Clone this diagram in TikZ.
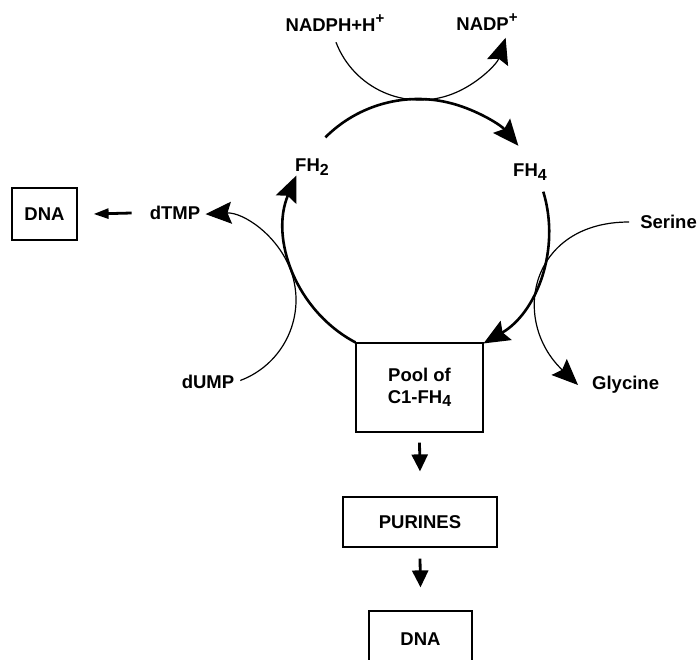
\documentclass[tikz,border=0pt]{standalone}
\usepackage{fontspec}
\setmainfont{Liberation Sans}
\usetikzlibrary{arrows.meta}
\newcommand{\sbs}[1]{\raisebox{-0.35ex}{\fontsize{16}{16}\selectfont #1}}
\newcommand{\sps}[1]{\raisebox{0.75ex}{\fontsize{15}{15}\selectfont #1}}
\begin{document}
\begin{tikzpicture}[x=1pt,y=1pt,
  lbl/.style={font=\fontsize{18.5}{22}\selectfont\bfseries, inner sep=0pt},
  box/.style={draw, line width=1.2pt, lbl},
  bighead/.style={-{Stealth[length=26pt,width=22pt,inset=4pt]}},
  thickarc/.style={line width=2.6pt, bighead},
  thinarc/.style={line width=1.2pt, bighead},
  smallarrow/.style={line width=2.8pt, -{Triangle[length=17pt,width=16pt]}},
  sidearrow/.style={line width=2.8pt, -{Triangle[length=15pt,width=10pt]}}]
\clip (0,0) rectangle (698,659);
\fill[white] (0,0) rectangle (698,659);
% labels
\node[lbl] (nadph) at (335,636) {NADPH+H\sps{+}};
\node[lbl] (nadp) at (487,637) {NADP\sps{+}};
\node[lbl] (fh2) at (312,492) {FH\sbs{2}};
\node[lbl] (fh4) at (530,487) {FH\sbs{4}};
\node[lbl] (dtmp) at (175,446) {dTMP};
\node[lbl, anchor=east] (serine) at (697,437) {Serine};
\node[lbl] (dump) at (208,277) {dUMP};
\node[lbl, anchor=west] (glycine) at (592,274) {Glycine};
% boxes
\node[box, minimum width=65, minimum height=52] (dnaL) at (44.5,445) {DNA};
\node[box, minimum width=127, minimum height=89, align=center] (pool) at (419.5,271.5) {Pool of\\C1-FH\sbs{4}};
\node[box, minimum width=154, minimum height=50] (purines) at (420,137) {PURINES};
\node[box, minimum width=103, minimum height=60] (dnaB) at (420.5,18) {\raisebox{4pt}{DNA}};
% centres of the circular arcs
\coordinate (C) at (418,429);
\coordinate (N) at (420,649);
\coordinate (T) at (210,359);
% FH2 -> FH4 cycle
\draw[thickarc] ([shift={(135:131)}]C) arc[start angle=135, end angle=40, radius=131];
\draw[thickarc] ([shift={(17:131)}]C) arc[start angle=17, end angle=-60, radius=131];
\draw[thickarc] (pool.north west) arc[start angle=242, end angle=157, radius=131];
% NADPH -> NADP+
\draw[thinarc] ([shift={(201:90)}]N) arc[start angle=201, end angle=342, radius=90];
% Serine -> Glycine
\draw[thinarc] ([xshift=-11]serine.west) .. controls (530,437) and (510,339) .. ([xshift=-14]glycine.west);
% dUMP -> dTMP
\draw[thinarc] ([shift={(-69.4:86)}]T) arc[start angle=-69.4, end angle=93, radius=86];
% dTMP -> DNA
\draw[sidearrow] ([xshift=-18]dtmp.west) -- ([xshift=16]dnaL.east);
% Pool -> PURINES -> DNA
\draw[smallarrow] ([yshift=-10]pool.south) -- ([yshift=25]purines.north);
\draw[smallarrow] ([yshift=-11]purines.south) -- ([yshift=23]dnaB.north);
\end{tikzpicture}
\end{document}
